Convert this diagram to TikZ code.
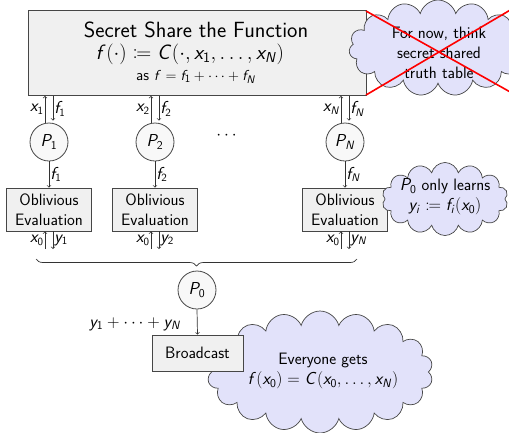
\documentclass[tikz,border=0pt]{standalone}
\usepackage{mathtools}
\usetikzlibrary{shapes.symbols,decorations.pathreplacing,calc}
\DeclareSymbolFont{sfit}{OT1}{cmss}{m}{sl}
\DeclareSymbolFont{sfup}{OT1}{cmss}{m}{n}
\DeclareMathSymbol{f}{\mathalpha}{sfit}{`f}
\DeclareMathSymbol{x}{\mathalpha}{sfit}{`x}
\DeclareMathSymbol{y}{\mathalpha}{sfit}{`y}
\DeclareMathSymbol{i}{\mathalpha}{sfit}{`i}
\DeclareMathSymbol{C}{\mathalpha}{sfit}{`C}
\DeclareMathSymbol{N}{\mathalpha}{sfit}{`N}
\DeclareMathSymbol{P}{\mathalpha}{sfit}{`P}
\DeclareMathSymbol{0}{\mathalpha}{sfup}{`0}
\DeclareMathSymbol{1}{\mathalpha}{sfup}{`1}
\DeclareMathSymbol{2}{\mathalpha}{sfup}{`2}
\definecolor{boxfill}{RGB}{240,240,240}
\definecolor{boxline}{RGB}{70,70,70}
\definecolor{cloudfill}{RGB}{226,226,250}
\newcommand{\fnormal}{\sffamily\fontsize{16.5}{20}\selectfont}
\newcommand{\flarge}{\sffamily\fontsize{22}{26}\selectfont}
\newcommand{\fform}{\sffamily\fontsize{20.7}{24}\selectfont}
\newcommand{\fsmall}{\sffamily\fontsize{15.3}{18}\selectfont}
\newcommand{\flbl}{\sffamily\fontsize{16}{18}\selectfont}
\begin{document}
\begin{tikzpicture}[x=1pt,y=-1pt,
  every node/.style={font=\fnormal},
  graybox/.style={draw=boxline,fill=boxfill,line width=0.8pt,align=center,inner sep=0pt},
  party/.style={circle,draw=boxline,fill=boxfill!50!white,line width=0.8pt,minimum size=38pt,inner sep=0pt,font=\sffamily\fontsize{17}{20}\selectfont},
  thought/.style={cloud,cloud puffs=16,cloud ignores aspect,draw=boxline,fill=cloudfill,line width=0.7pt,align=center,inner sep=0pt},
  flow/.style={->,line width=0.7pt,>=to,draw=black!80},
  lbl/.style={font=\flbl,inner sep=1pt}
]
\useasboundingbox (0,0) rectangle (509,432);

% top box
\node[graybox,minimum width=338pt,minimum height=85pt] (top) at (197,53) {};
\node[font=\flarge,inner sep=0pt] (title) at (196,29.5) {Secret Share the Function};
\node[font=\fform,inner sep=0pt] (formula) at (190,54.5) {$f(\cdot)\coloneqq C(\cdot,x_1,\ldots,x_N)$};
\node[font=\fsmall,inner sep=0pt] (asline) at (196,77) {as $f=f_1+\cdots+f_N$};

% top cloud
\node[thought,cloud puffs=15,minimum width=178pt,minimum height=96pt] (cloudtop) at (438,48) {};
\node[align=center,inner sep=0pt] (cloudtoptext) at (439,53) {For now, think\\secret shared\\truth table};
\coordinate (crossA) at (366,11);
\coordinate (crossB) at (366,95);
\coordinate (crossC) at (512,93);
\coordinate (crossD) at (512,9);
\draw[red,line width=1.6pt] (crossA) -- (crossC);
\draw[red,line width=1.6pt] (crossB) -- (crossD);

% columns
\foreach \i/\cx in {1/49,2/155,N/345}{
  \node[party] (P\i) at (\cx,142) {$P_{\i}$};
  \node[graybox,minimum width=85pt,minimum height=43pt] (O\i) at (\cx,209.5) {Oblivious\\Evaluation};
  \draw[flow] ([xshift=-4pt]P\i.north) -- ([xshift=-4pt]P\i.north |- top.south)
     node[lbl,midway,anchor=east] {$x_{\i}$};
  \draw[flow,shorten >=2pt] ([xshift=4pt]P\i.north |- top.south) -- ([xshift=4pt]P\i.north)
     node[lbl,midway,anchor=west] {$f_{\i}$};
  \draw[flow] (P\i.south) -- (O\i.north) node[lbl,midway,anchor=west] {$f_{\i}$};
  \coordinate (b\i) at (\cx,249);
  \draw[flow] ([xshift=-4pt]b\i) -- ([xshift=-4pt]b\i |- O\i.south)
     node[lbl,midway,anchor=east] {$x_0$};
  \draw[flow] ([xshift=4pt]b\i |- O\i.south) -- ([xshift=4pt]b\i)
     node[lbl,midway,anchor=west] {$y_{\i}$};
}
\node[inner sep=0pt] (dots) at (228,136) {$\cdots$};

% right cloud
\node[thought,cloud puffs=14,minimum width=126pt,minimum height=73pt] (cloudmid) at (445,199) {};
\node[align=center,inner sep=0pt] (cloudmidtext) at (445,197) {$P_0$ only learns\\$y_i\coloneqq f_i(x_0)$};

% brace
\coordinate (braceL) at (36,259);
\coordinate (braceR) at (357,259);
\draw[line width=0.7pt,black!80,decorate,decoration={brace,mirror,amplitude=7pt}] (braceL) -- (braceR);

% bottom cloud (behind the broadcast box)
\node[thought,cloud puffs=18,minimum width=226pt,minimum height=122pt] (cloudbot) at (320,372) {};
\node[align=center,inner sep=0pt] (cloudbottext) at (323,371) {Everyone gets\\$f(x_0)=C(x_0,\ldots,x_N)$};

% P0 and broadcast
\node[party] (P0) at (197,290) {$P_0$};
\node[graybox,minimum width=91pt,minimum height=36pt] (bc) at (197.5,353) {Broadcast};
\draw[flow] (P0.south) -- (bc.north) node[midway,anchor=east,inner sep=0pt,xshift=-16pt,yshift=-2pt] {$y_1+\cdots+y_N$};
\end{tikzpicture}
\end{document}
